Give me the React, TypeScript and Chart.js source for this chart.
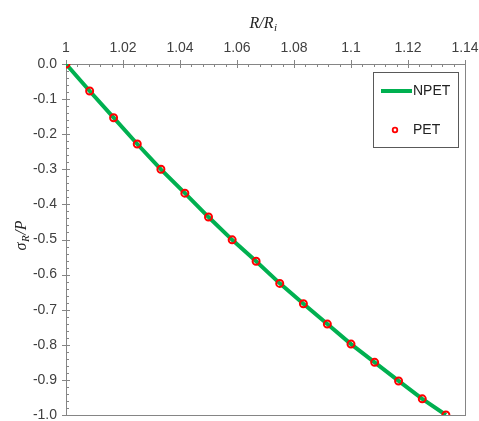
import React, { useEffect, useRef } from "react";
import { Chart, registerables } from "chart.js";

Chart.register(...registerables);

// R / R_i values
const rRatio = [
  1.0, 1.0083, 1.0167, 1.025, 1.0333, 1.0417, 1.05, 1.0583, 1.0667, 1.075,
  1.0833, 1.0917, 1.1, 1.1083, 1.1167, 1.125, 1.1333,
];
// sigma_R / P, NPET (line)
const npet = [
  0.0, -0.077, -0.153, -0.228, -0.3, -0.368, -0.436, -0.501, -0.562, -0.625,
  -0.683, -0.741, -0.798, -0.85, -0.903, -0.954, -1.0,
];
// sigma_R / P, PET (markers)
const pet = [
  0.0, -0.077, -0.153, -0.228, -0.3, -0.368, -0.436, -0.501, -0.562, -0.625,
  -0.683, -0.741, -0.798, -0.85, -0.903, -0.954, -1.0,
];

const xTickValues = [1, 1.02, 1.04, 1.06, 1.08, 1.1, 1.12, 1.14];
const xTickLabels = ["1", "1.02", "1.04", "1.06", "1.08", "1.1", "1.12", "1.14"];
const yTickValues = [0, -0.1, -0.2, -0.3, -0.4, -0.5, -0.6, -0.7, -0.8, -0.9, -1.0];
const yTickLabels = ["0.0", "-0.1", "-0.2", "-0.3", "-0.4", "-0.5", "-0.6", "-0.7", "-0.8", "-0.9", "-1.0"];

const seriesNames = ["NPET", "PET"];
const xTitle = { main: "R/R", sub: "i" };
const yTitle = { main: "σ", sub: "R", rest: "/P" };

const GREEN = "#00b050";
const RED = "#ff0000";
const AXIS = "#858585";

const decorPlugin = {
  id: "decor",
  beforeDatasetsDraw(chart: any) {
    const { ctx, chartArea: a, scales } = chart;
    const xs = scales.x;
    const ys = scales.y;
    ctx.save();
    ctx.strokeStyle = AXIS;
    ctx.lineWidth = 1;
    ctx.strokeRect(Math.round(a.left) + 0.5, Math.round(a.top) + 0.5, Math.round(a.right - a.left), Math.round(a.bottom - a.top));
    ctx.beginPath();
    xTickValues.forEach((v) => {
      const px = Math.round(xs.getPixelForValue(v)) + 0.5;
      ctx.moveTo(px, a.top - 4);
      ctx.lineTo(px, a.top + 4);
    });
    for (let i = 0; i <= 35; i++) {
      const px = Math.round(xs.getPixelForValue(1 + i * 0.004)) + 0.5;
      ctx.moveTo(px, a.top);
      ctx.lineTo(px, a.top + 3);
    }
    yTickValues.forEach((v) => {
      const py = Math.round(ys.getPixelForValue(v)) + 0.5;
      ctx.moveTo(a.left - 4, py);
      ctx.lineTo(a.left + 4, py);
    });
    for (let i = 0; i <= 50; i++) {
      const py = Math.round(ys.getPixelForValue(-i * 0.02)) + 0.5;
      ctx.moveTo(a.left, py);
      ctx.lineTo(a.left + 3, py);
    }
    ctx.stroke();
    ctx.restore();
  },
  afterDraw(chart: any) {
    const { ctx } = chart;
    ctx.save();
    ctx.fillStyle = "#222";
    ctx.textBaseline = "alphabetic";
    const mainFont = "italic 16px 'Liberation Serif'";
    const subFont = "italic 11px 'Liberation Serif'";
    ctx.font = mainFont;
    const w1 = ctx.measureText(xTitle.main).width;
    ctx.font = subFont;
    const w2 = ctx.measureText(xTitle.sub).width;
    const cx = 263;
    const sx = cx - (w1 + w2) / 2;
    ctx.font = mainFont;
    ctx.fillText(xTitle.main, sx, 28);
    ctx.font = subFont;
    ctx.fillText(xTitle.sub, sx + w1 + 0.5, 31);

    ctx.save();
    ctx.translate(26, 236);
    ctx.rotate(-Math.PI / 2);
    ctx.font = mainFont;
    const m1 = ctx.measureText(yTitle.main).width;
    ctx.font = subFont;
    const m2 = ctx.measureText(yTitle.sub).width;
    ctx.font = mainFont;
    const m3 = ctx.measureText(yTitle.rest).width;
    const ty = -(m1 + m2 + m3) / 2;
    ctx.font = mainFont;
    ctx.fillText(yTitle.main, ty, 0);
    ctx.font = subFont;
    ctx.fillText(yTitle.sub, ty + m1 + 0.5, 3);
    ctx.font = mainFont;
    ctx.fillText(yTitle.rest, ty + m1 + m2 + 1, 0);
    ctx.restore();

    const lx = 373, ly = 72, lw = 85, lh = 75;
    ctx.strokeStyle = "#595959";
    ctx.lineWidth = 1;
    ctx.strokeRect(lx + 0.5, ly + 0.5, lw, lh);
    ctx.strokeStyle = GREEN;
    ctx.lineWidth = 4;
    ctx.beginPath();
    ctx.moveTo(381, 91);
    ctx.lineTo(412, 91);
    ctx.stroke();
    ctx.strokeStyle = RED;
    ctx.lineWidth = 1.8;
    ctx.beginPath();
    ctx.arc(395, 130, 2.3, 0, Math.PI * 2);
    ctx.stroke();
    ctx.fillStyle = "#222";
    ctx.font = "14px 'Liberation Sans'";
    ctx.textBaseline = "middle";
    ctx.fillText(seriesNames[0], 413, 91);
    ctx.fillText(seriesNames[1], 413, 130);
    ctx.restore();
  },
};

const zeroPad = (s: any) => {
  s.paddingLeft = 0;
  s.paddingRight = 0;
  s.paddingTop = 0;
  s.paddingBottom = 0;
};

export default function App() {
  const ref = useRef<HTMLCanvasElement | null>(null);
  useEffect(() => {
    if (!ref.current) return;
    const chart = new Chart(ref.current, {
      type: "scatter",
      data: {
        datasets: [
          {
            label: seriesNames[1],
            data: rRatio.map((x, i) => ({ x, y: pet[i] })),
            showLine: false,
            pointRadius: 3.5,
            pointBorderWidth: 2,
            pointBorderColor: RED,
            pointBackgroundColor: "rgba(0,0,0,0)",
            order: 0,
          },
          {
            label: seriesNames[0],
            data: rRatio.map((x, i) => ({ x, y: npet[i] })),
            showLine: true,
            borderColor: GREEN,
            borderWidth: 4,
            pointRadius: 0,
            tension: 0,
            order: 1,
          },
        ],
      },
      options: {
        animation: false,
        responsive: false,
        devicePixelRatio: 1,
        layout: { padding: { left: 0, top: 0, right: 14, bottom: 6 } },
        plugins: { legend: { display: false }, tooltip: { enabled: false } },
        scales: {
          x: {
            type: "linear",
            position: "top",
            min: 1,
            max: 1.14,
            afterBuildTicks: (s: any) => {
              s.ticks = xTickValues.map((v) => ({ value: v }));
            },
            afterFit: (s: any) => {
              s.height = 64;
              zeroPad(s);
            },
            ticks: {
              padding: 7,
              maxRotation: 0,
              autoSkip: false,
              color: "#404040",
              font: { family: "'Liberation Sans'", size: 14 },
              callback: (v: any) => {
                const i = xTickValues.findIndex((t) => Math.abs(t - v) < 1e-9);
                return i >= 0 ? xTickLabels[i] : "";
              },
            },
            grid: { display: false, drawTicks: false },
            border: { display: false },
          },
          y: {
            type: "linear",
            min: -1,
            max: 0,
            afterBuildTicks: (s: any) => {
              s.ticks = yTickValues.map((v) => ({ value: v }));
            },
            afterFit: (s: any) => {
              s.width = 66;
              zeroPad(s);
            },
            ticks: {
              padding: 9,
              autoSkip: false,
              color: "#404040",
              font: { family: "'Liberation Sans'", size: 14 },
              callback: (v: any) => {
                const i = yTickValues.findIndex((t) => Math.abs(t - v) < 1e-9);
                return i >= 0 ? yTickLabels[i] : "";
              },
            },
            grid: { display: false, drawTicks: false },
            border: { display: false },
          },
        },
      },
      plugins: [decorPlugin],
    });
    return () => chart.destroy();
  }, []);
  return (
    <div style={{ position: "absolute", left: 0, top: 0, width: 479, height: 421, background: "#fff" }}>
      <canvas ref={ref} width={479} height={421} />
    </div>
  );
}
